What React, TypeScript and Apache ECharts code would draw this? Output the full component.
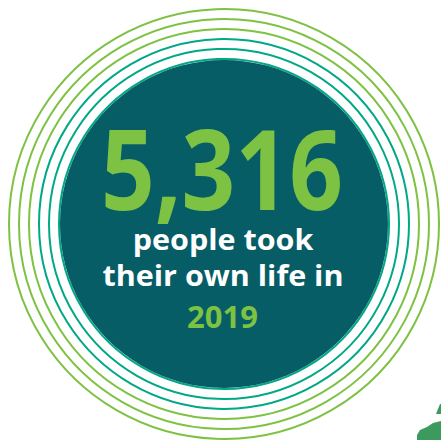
import React, { useEffect, useRef } from "react";
import * as echarts from "echarts";

const headlineValue = ["5,316"];
const captionLines = ["people took", "their own life in"];
const yearLabel = ["2019"];
const ringRadii = [215, 205, 195, 185, 175, 165];
const ringColors = ["#7dc242", "#7dc242", "#7dc242", "#00a886", "#00a886", "#00a886"];
const discValue = [1];

export default function App() {
  const ref = useRef<HTMLDivElement>(null);
  useEffect(() => {
    if (!ref.current) return;
    const chart = echarts.init(ref.current, null, { renderer: "svg" });
    const cx = 224;
    const cy = 224;
    const rings = ringRadii.map((r, i) => ({
      type: "circle",
      shape: { cx, cy, r },
      style: { fill: "none", stroke: ringColors[i], lineWidth: 2 },
      silent: true,
    }));
    chart.setOption({
      animation: false,
      series: [
        {
          type: "pie",
          center: [cx, cy],
          radius: [0, 164],
          silent: true,
          label: { show: false },
          labelLine: { show: false },
          itemStyle: { color: "#065d66" },
          data: discValue.map((v) => ({ value: v, name: "disc" })),
          z: 1,
        },
      ],
      graphic: [
        ...rings,
        {
          type: "text",
          x: 222,
          y: 166,
          scaleX: 0.84,
          style: {
            text: headlineValue[0],
            fill: "#7dc242",
            font: "700 112px 'Open Sans'",
            lineHeight: 80,
            align: "center",
            verticalAlign: "middle",
          },
          z: 10,
        },
        {
          type: "text",
          x: 223,
          y: 220.25,
          scaleX: 1.07,
          style: {
            text: captionLines.join("\n"),
            fill: "#ffffff",
            fontFamily: "Open Sans",
            fontWeight: 700,
            fontSize: 28.5,
            lineHeight: 36.5,
            align: "center",
            verticalAlign: "top",
          },
          z: 10,
        },
        {
          type: "text",
          x: 222.5,
          y: 315.5,
          style: {
            text: yearLabel[0],
            fill: "#7dc242",
            fontFamily: "Open Sans",
            fontWeight: 700,
            fontSize: 31,
            lineHeight: 34,
            align: "center",
            verticalAlign: "middle",
          },
          z: 10,
        },
        {
          type: "polygon",
          shape: { points: [[440, 404], [436, 414], [441, 414], [441, 404]] },
          style: { fill: "#3d9a5e" },
        },
        {
          type: "polygon",
          shape: {
            points: [
              [433, 423], [427, 427], [420, 430], [417, 435], [417, 440],
              [441, 440], [441, 421],
            ],
          },
          style: { fill: "#3d9a5e" },
        },
      ],
    });
    return () => chart.dispose();
  }, []);
  return (
    <div
      ref={ref}
      style={{ position: "fixed", left: 0, top: 0, width: 441, height: 440, background: "#fff" }}
    />
  );
}
